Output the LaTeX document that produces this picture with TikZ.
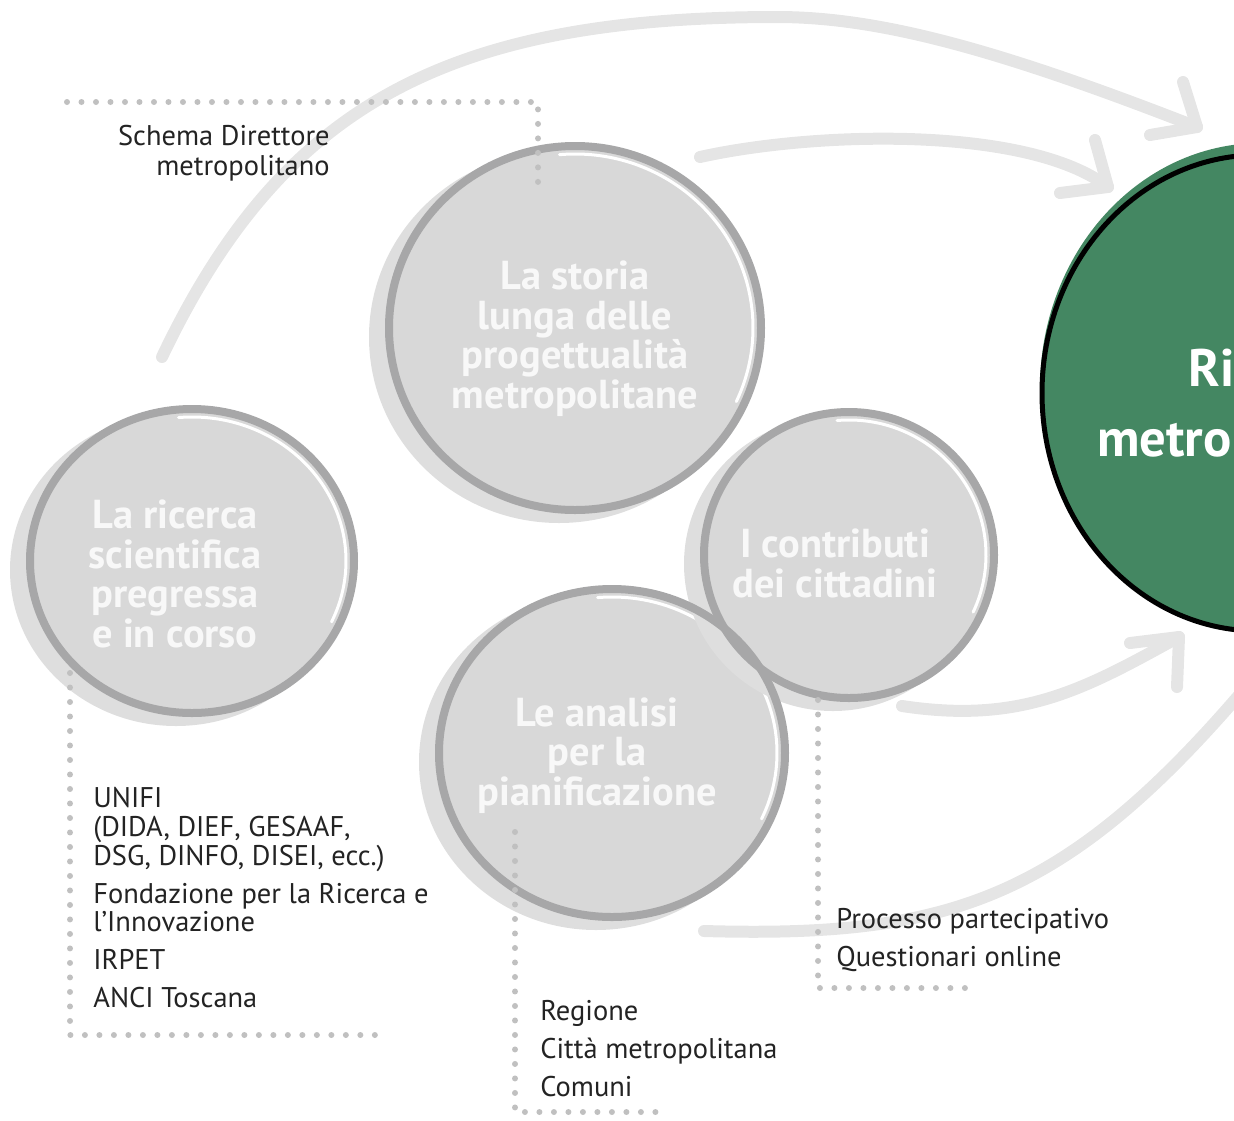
\documentclass[tikz,border=0pt]{standalone}
\usepackage{fontspec}
\setmainfont{PT Sans}
\usepackage{xcolor}
\usepackage{tikz}
\usetikzlibrary{positioning}

\definecolor{bubblefill}{RGB}{216,216,216}
\definecolor{bubbleshade}{RGB}{222,222,222}
\definecolor{ringgray}{RGB}{167,167,168}
\definecolor{flowgray}{RGB}{229,229,229}
\definecolor{dotgray}{RGB}{192,192,192}
\definecolor{inkgray}{RGB}{35,35,35}
\definecolor{bubbletext}{RGB}{248,248,248}
\definecolor{planegreen}{RGB}{68,135,98}

\begin{document}
\begin{tikzpicture}[
    x=0.02cm, y=-0.02cm,
    flow/.style={draw=flowgray, line width=0.24cm, line cap=round, line join=round},
    dots/.style={draw=dotgray, line width=0.12cm, line cap=round, dash pattern=on 0pt off 0.29cm},
    ring/.style={draw=ringgray, line width=0.16cm},
    bubble/.style={align=center, inner sep=0pt, text=bubbletext, font=\fontsize{23}{22.4}\selectfont\bfseries},
    source/.style={align=left, inner sep=0pt, text=inkgray, font=\fontsize{16.2}{16.4}\selectfont},
]

\useasboundingbox (0,0) rectangle (1234,1120);

% centres of the bubbles
\coordinate (storia) at (575,328);
\coordinate (ricerca) at (192,561);
\coordinate (analisi) at (612,753);
\coordinate (contributi) at (849,555);
\coordinate (piano) at (1258,393);

% ends of the flows
\coordinate (f1a) at (162,357);
\coordinate (f1m) at (777,17);
\coordinate (f1b) at (1197,127);
\coordinate (f2a) at (700,157);
\coordinate (f2b) at (1108,187);
\coordinate (f3a) at (902,706);
\coordinate (f3b) at (1179,637);
\coordinate (f4a) at (704,931);
\coordinate (f4b) at (1262,668);

% flows towards the green bubble
\draw[flow] (f1a) .. controls (282,105) and (447,17) .. (f1m)
                  .. controls (880,17) and (1000,50) .. (f1b);
\draw[flow] (f1b) ++(-14,-45) -- (f1b) -- ++(-47,8);
\draw[flow] (f2a) .. controls (817,131) and (1029,126) .. (f2b);
\draw[flow] (f2b) ++(-13,-47) -- (f2b) -- ++(-48,6);
\draw[flow] (f3a) .. controls (1021,724) and (1083,690) .. (f3b);
\draw[flow] (f3b) ++(-2,50) -- (f3b) -- ++(-49,6);
\draw[flow] (f4a) .. controls (954,938) and (1070,899) .. (f4b);

% green bubble
\fill[planegreen] (1261,388) ellipse [x radius=221, y radius=245];
\draw[fill=planegreen, draw=black, line width=0.1cm] (piano) ellipse [x radius=216, y radius=238];
\node[anchor=base west, inner sep=0pt, text=white, font=\fontsize{30}{33}\selectfont\bfseries] (piano-1) at (1188,386) {Ri};
\node[anchor=base west, inner sep=0pt, text=white, font=\fontsize{30}{33}\selectfont\bfseries] (piano-2) at (1097,456) {metro};

% grey bubbles: shade, fill, white highlight
\foreach \b/\rx/\ry in {storia/190/186, ricerca/166/156, analisi/177/168, contributi/149/147}{
  \pgfmathsetmacro\fx{\rx-4}
  \pgfmathsetmacro\fy{\ry-4}
  \pgfmathsetmacro\wx{\rx-12}
  \pgfmathsetmacro\wy{\ry-12}
  \fill[bubbleshade] ([shift={(-16,9)}]\b) ellipse [x radius=\rx, y radius=\ry];
  \fill[bubblefill] (\b) ellipse [x radius=\fx, y radius=\fy];
  \draw[white, line width=0.06cm, line cap=round] (\b) ++({\wx*cos(-95)},{\wy*sin(-95)})
    arc [start angle=-95, end angle=25, x radius=\wx, y radius=\wy];
}
\foreach \b/\rx/\ry in {storia/190/186, ricerca/166/156, analisi/177/168, contributi/149/147}{
  \pgfmathsetmacro\fx{\rx-4}
  \pgfmathsetmacro\fy{\ry-4}
  \draw[ring] (\b) ellipse [x radius=\fx, y radius=\fy];
}

% bubble titles (anchored on the last line)
\node[bubble, anchor=base] (storia-t) at (575,408) {La storia\\lunga delle\\progettualità\\metropolitane};
\node[bubble, anchor=base] (ricerca-t) at (175,647) {La ricerca\\scientifica\\pregressa\\e in corso};
\node[bubble, anchor=base] (analisi-t) at (597,805) {Le analisi\\per la\\pianificazione};
\node[bubble, anchor=base] (contributi-t) at (835,597) {I contributi\\dei cittadini};

% dotted leaders to the sources
\coordinate (d1a) at (67,102);
\coordinate (d1b) at (538,187);
\coordinate (d2a) at (70,673);
\coordinate (d2b) at (383,1035);
\coordinate (d3a) at (515,832);
\coordinate (d3b) at (662,1112);
\coordinate (d4a) at (818,700);
\coordinate (d4b) at (967,988);
\draw[dots] (d1a) -| (d1b);
\draw[dots] (d2a) |- (d2b);
\draw[dots] (d3a) |- (d3b);
\draw[dots] (d4a) |- (d4b);

% sources
\node[source, align=right, anchor=base east] (schema) at (330,175) {Schema Direttore\\[0.6pt]metropolitano};
\node[source, anchor=base west] (enti) at (93,1007) {UNIFI\\(DIDA, DIEF, GESAAF,\\DSG, DINFO, DISEI, ecc.)\\[5pt]Fondazione per la Ricerca e\\l’Innovazione\\[5pt]IRPET\\[5pt]ANCI Toscana};
\node[source, anchor=base west] (istituzioni) at (540,1096) {Regione\\[5pt]Città metropolitana\\[5pt]Comuni};
\node[source, anchor=base west] (partecipazione) at (836,966) {Processo partecipativo\\[5pt]Questionari online};

\end{tikzpicture}
\end{document}
